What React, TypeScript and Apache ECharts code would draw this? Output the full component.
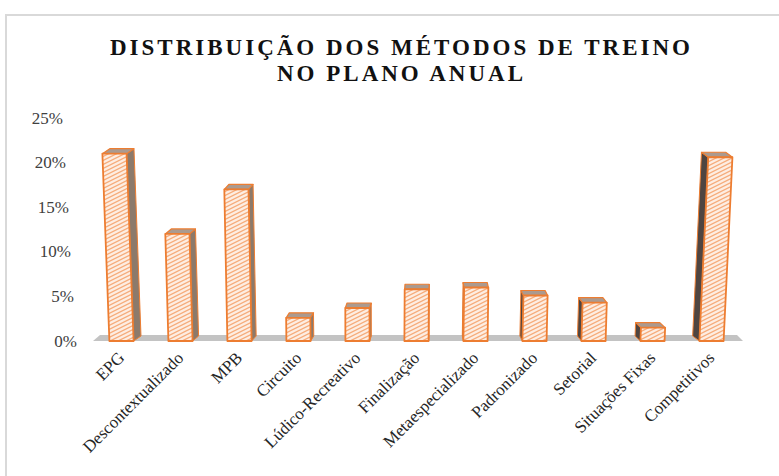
import React, { useEffect, useRef } from 'react';
import * as echarts from 'echarts';

const categories = [
  'EPG',
  'Descontextualizado',
  'MPB',
  'Circuito',
  'Lúdico-Recreativo',
  'Finalização',
  'Metaespecializado',
  'Padronizado',
  'Setorial',
  'Situações Fixas',
  'Competitivos',
];
const values = [21, 12, 17, 2.6, 3.7, 5.8, 6, 5.1, 4.3, 1.5, 20.6];
const yTicks = [0, 5, 10, 15, 20, 25];
const titleText = 'DISTRIBUIÇÃO DOS MÉTODOS DE TREINO\nNO PLANO ANUAL';

const SERIF = "'Liberation Serif', 'Times New Roman', serif";

function makePattern() {
  const c = document.createElement('canvas');
  c.width = 8;
  c.height = 4;
  const g = c.getContext('2d')!;
  g.fillStyle = '#fdeee3';
  g.fillRect(0, 0, 8, 4);
  g.strokeStyle = '#f6ad7c';
  g.lineWidth = 1.3;
  g.beginPath();
  g.moveTo(-8, 8);
  g.lineTo(8, 0);
  g.moveTo(0, 8);
  g.lineTo(16, 0);
  g.moveTo(-8, 4);
  g.lineTo(8, -4);
  g.moveTo(0, 4);
  g.lineTo(16, -4);
  g.stroke();
  return { image: c, repeat: 'repeat', imageWidth: 8, imageHeight: 4 } as any;
}

export default function App() {
  const ref = useRef<HTMLDivElement>(null);
  useEffect(() => {
    document.body.style.margin = '0';
    const chart = echarts.init(ref.current!, null, { renderer: 'svg' });
    const pattern = makePattern();
    const padFor = (v: number) => Math.round((v / 5) * 2.8);
    const rich: any = {};
    yTicks.forEach((t) => {
      rich['p' + t] = {
        fontFamily: SERIF,
        fontSize: 17,
        color: '#404040',
        padding: [0, padFor(t), 0, 0],
      };
    });

    const VX_LEAN = 380;
    const K_LEAN = 1.45e-4;
    const VX_DEPTH = 430;
    const K_DEPTH = 0.024;
    const DY = 5;

    chart.setOption({
      animation: false,
      graphic: [
        {
          type: 'rect',
          z: -10,
          silent: true,
          shape: { x: 6, y: 15, width: 800, height: 500 },
          style: { fill: '#fff', stroke: '#d9d9d9', lineWidth: 2 },
        },
        {
          type: 'text',
          z: 10,
          silent: true,
          x: 401.5,
          y: 34,
          style: {
            text: titleText,
            textAlign: 'center',
            textVerticalAlign: 'top',
            fontFamily: SERIF,
            fontWeight: 'bold',
            fontSize: 23,
            lineHeight: 26,
            fill: '#111',
          },
        },
      ],
      grid: { left: 92, right: 38, top: 118, bottom: 135, containLabel: false },
      xAxis: {
        type: 'category',
        data: categories,
        axisLine: { show: false },
        axisTick: { show: false },
        axisLabel: {
          interval: 0,
          rotate: 45,
          margin: 14,
          fontFamily: SERIF,
          fontSize: 17,
          color: '#262626',
        },
      },
      yAxis: {
        type: 'value',
        min: 0,
        max: 25,
        interval: 5,
        axisLine: { show: false },
        axisTick: { show: false },
        splitLine: { show: false },
        axisLabel: {
          margin: 15,
          fontFamily: SERIF,
          fontSize: 17,
          color: '#404040',
          formatter: (v: number) => `{p${v}|${v}%}`,
          rich,
        },
      },
      series: [
        {
          type: 'custom',
          name: 'floor',
          clip: false,
          silent: true,
          z: 1,
          data: [[0, 0]],
          encode: { x: 0, y: 1 },
          renderItem: (params: any, api: any) => {
            const a = api.coord([0, 0]);
            const b = api.coord([categories.length - 1, 0]);
            const band = api.size([1, 0])[0];
            const left = a[0] - band / 2;
            const right = b[0] + band / 2;
            const base = a[1];
            return {
              type: 'polygon',
              shape: {
                points: [
                  [left + 1, base],
                  [left + 8, base - 6],
                  [right - 4, base - 6],
                  [right + 2, base],
                ],
              },
              style: { fill: '#c3c3c3' },
            };
          },
        },
        {
          type: 'custom',
          name: 'Métodos',
          clip: false,
          z: 2,
          data: values.map((v, i) => [i, v]),
          encode: { x: 0, y: 1 },
          renderItem: (params: any, api: any) => {
            const idx = api.value(0);
            const v = api.value(1);
            const base = api.coord([idx, 0]);
            const top = api.coord([idx, v]);
            const band = api.size([1, 0])[0];
            const w = band * 0.41;
            const cx = base[0];
            const h = base[1] - top[1];
            const lean = (cx - VX_LEAN) * h * K_LEAN;
            const fl = [cx - w / 2, base[1]];
            const fr = [cx + w / 2, base[1]];
            const tl = [cx - w / 2 + lean, top[1]];
            const tr = [cx + w / 2 + lean, top[1]];
            const dx = (VX_DEPTH - cx) * K_DEPTH;
            const off = (p: number[]) => [p[0] + dx, p[1] - DY];
            const children: any[] = [];
            if (dx > 0) {
              children.push({
                type: 'polygon',
                shape: { points: [fr, tr, off(tr), off(fr)] },
                style: { fill: '#8c7a6b', stroke: '#ed7d31', lineWidth: 1, lineJoin: 'round' },
              });
            } else {
              children.push({
                type: 'polygon',
                shape: { points: [fl, tl, off(tl), off(fl)] },
                style: { fill: '#4f4541', stroke: '#ed7d31', lineWidth: 1, lineJoin: 'round' },
              });
            }
            children.push({
              type: 'polygon',
              shape: { points: [tl, tr, off(tr), off(tl)] },
              style: { fill: '#ab9a8f', stroke: '#ed7d31', lineWidth: 1.2, lineJoin: 'round' },
            });
            children.push({
              type: 'polygon',
              shape: { points: [fl, tl, tr, fr] },
              style: { fill: pattern, stroke: '#ed7d31', lineWidth: 1.8, lineJoin: 'round' },
            });
            return { type: 'group', children };
          },
        },
      ],
    });
    return () => chart.dispose();
  }, []);

  return (
    <>
      <style>{`#chart-box svg text[style*="bold"] { letter-spacing: 3px; }`}</style>
      <div id="chart-box" ref={ref} style={{ width: 779, height: 476 }} />
    </>
  );
}
